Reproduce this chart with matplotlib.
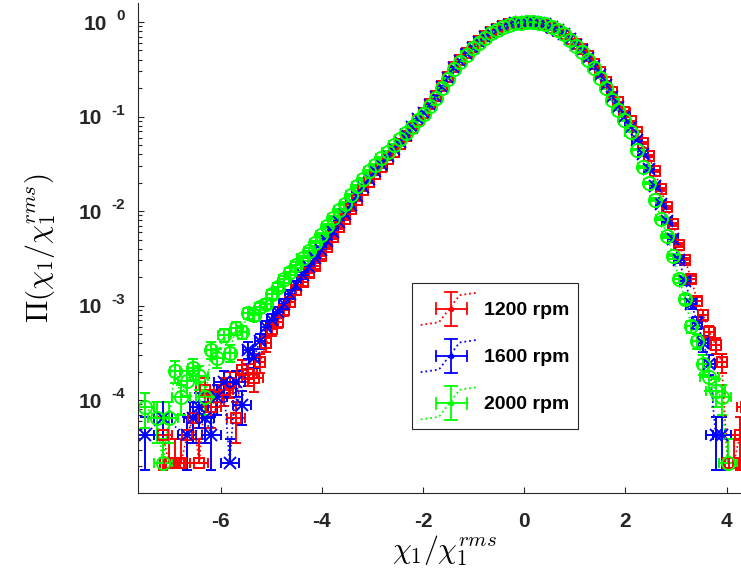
import numpy as np
import matplotlib
matplotlib.use('Agg')
import matplotlib.pyplot as plt
import matplotlib.transforms as mtransforms
from matplotlib.legend_handler import HandlerBase
from matplotlib.container import ErrorbarContainer
from matplotlib.lines import Line2D
from matplotlib.ticker import FixedLocator, LogLocator, NullFormatter

plt.rcParams['font.family'] = ['Liberation Sans', 'DejaVu Sans']
plt.rcParams['font.weight'] = 'bold'
plt.rcParams['axes.unicode_minus'] = False

# bin centres, normalised by rms
x_bins = [
    -7.62, -7.50, -7.38, -7.26, -7.14, -7.02, -6.90, -6.78, -6.66, -6.54,
    -6.42, -6.30, -6.18, -6.06, -5.94, -5.82, -5.70, -5.58, -5.46, -5.34,
    -5.22, -5.10, -4.98, -4.86, -4.74, -4.62, -4.50, -4.38, -4.26, -4.14,
    -4.02, -3.90, -3.78, -3.66, -3.54, -3.42, -3.30, -3.18, -3.06, -2.94,
    -2.82, -2.70, -2.58, -2.46, -2.34, -2.22, -2.10, -1.98, -1.86, -1.74,
    -1.62, -1.50, -1.38, -1.26, -1.14, -1.02, -0.90, -0.78, -0.66, -0.54,
    -0.42, -0.30, -0.18, -0.06, 0.06, 0.18, 0.30, 0.42, 0.54, 0.66,
    0.78, 0.90, 1.02, 1.14, 1.26, 1.38, 1.50, 1.62, 1.74, 1.86,
    1.98, 2.10, 2.22, 2.34, 2.46, 2.58, 2.70, 2.82, 2.94, 3.06,
    3.18, 3.30, 3.42, 3.54, 3.66, 3.78, 3.90, 4.02, 4.14, 4.26,
    4.38,
]

nan = np.nan
# log10 of the pdf (nan = empty bin)
logp_1200 = [
    nan, nan, nan, nan, -4.37, -4.67, -4.67, -4.67, -4.37, -4.19,
    -4.67, -3.89, -4.07, -3.97, -3.89, -3.82, -4.19, -3.68, -3.72, -3.77,
    -3.60, -3.40, -3.25, -3.17, -3.05, -2.96, -2.84, -2.75, -2.66, -2.58,
    -2.48, -2.38, -2.27, -2.17, -2.08, -1.98, -1.88, -1.78, -1.69, -1.61,
    -1.53, -1.45, -1.37, -1.29, -1.21, -1.12, -1.04, -0.96, -0.87, -0.78,
    -0.68, -0.58, -0.48, -0.40, -0.33, -0.26, -0.20, -0.15, -0.11, -0.075,
    -0.045, -0.025, -0.01, -0.005, -0.005, -0.01, -0.02, -0.035, -0.06, -0.09,
    -0.13, -0.18, -0.23, -0.29, -0.36, -0.44, -0.53, -0.63, -0.74, -0.85,
    -0.95, -1.05, -1.16, -1.28, -1.42, -1.58, -1.77, -1.96, -2.14, -2.36,
    -2.52, -2.72, -2.95, -3.10, -3.28, -3.42, -3.60, -4.67, -4.67, -4.37,
    -4.07,
]
logp_1600 = [
    nan, -4.37, nan, nan, -4.19, nan, nan, nan, -4.37, -4.19,
    -4.07, -4.19, -4.37, -3.97, -3.81, -4.67, -3.81, -4.05, -3.47, -3.55,
    -3.37, -3.23, -3.15, -3.07, -2.98, -2.88, -2.78, -2.68, -2.59, -2.50,
    -2.41, -2.32, -2.22, -2.12, -2.03, -1.94, -1.84, -1.75, -1.66, -1.58,
    -1.50, -1.42, -1.34, -1.27, -1.19, -1.11, -1.03, -0.96, -0.88, -0.79,
    -0.69, -0.59, -0.49, -0.41, -0.34, -0.27, -0.21, -0.16, -0.115, -0.08,
    -0.05, -0.028, -0.012, -0.004, 0.0, -0.003, -0.01, -0.025, -0.05, -0.085,
    -0.125, -0.18, -0.24, -0.30, -0.38, -0.46, -0.56, -0.67, -0.79, -0.90,
    -1.00, -1.11, -1.25, -1.40, -1.56, -1.73, -1.92, -2.10, -2.30, -2.52,
    -2.74, -2.98, -3.18, -3.40, -3.62, -4.37, -4.37, nan, nan, nan,
    nan,
]
logp_2000 = [
    nan, -4.07, nan, -4.19, -4.67, -4.19, -3.69, -3.97, -3.80, -3.66,
    -3.75, -3.97, -3.47, -3.55, -3.31, -3.50, -3.24, -3.28, -3.08, -3.10,
    -3.02, -2.98, -2.88, -2.80, -2.72, -2.64, -2.57, -2.50, -2.42, -2.34,
    -2.25, -2.16, -2.07, -1.99, -1.92, -1.83, -1.74, -1.66, -1.58, -1.51,
    -1.44, -1.37, -1.30, -1.24, -1.17, -1.11, -1.04, -0.97, -0.89, -0.80,
    -0.70, -0.60, -0.50, -0.42, -0.35, -0.28, -0.22, -0.17, -0.12, -0.085,
    -0.055, -0.03, -0.015, -0.005, 0.0, 0.0, -0.005, -0.02, -0.05, -0.085,
    -0.13, -0.19, -0.25, -0.32, -0.40, -0.49, -0.59, -0.70, -0.82, -0.93,
    -1.04, -1.16, -1.35, -1.53, -1.70, -1.88, -2.08, -2.26, -2.48, -2.72,
    -2.93, -3.22, -3.37, -3.62, -3.76, -3.90, -3.97, -4.67, nan, nan,
    nan,
]

labels = ['1200 rpm', '1600 rpm', '2000 rpm']
y_ticks = [1e-4, 1e-3, 1e-2, 1e-1, 1e0]
y_exponents = ['-4', '-3', '-2', '-1', '0']
count_unit = 2.15e-5   # pdf value of a single count


class MatlabErrHandler(HandlerBase):
    # legend icon: dotted stair line with an x/y error cross on top
    def create_artists(self, legend, orig_handle, xdescent, ydescent,
                       width, height, fontsize, trans):
        c = orig_handle.lines[0].get_color()
        x0, y0, w, h = -xdescent, -ydescent, width, height
        fx = [0.0, 0.32, 0.5, 0.68, 1.0]
        fy = [0.02, 0.1, 0.5, 0.9, 0.98]
        kw = dict(color=c, lw=1.3, transform=trans)
        arts = [Line2D([x0 + f*w for f in fx], [y0 + f*h for f in fy],
                       ls=':', **kw)]
        cx, cy = x0 + 0.53*w, y0 + 0.5*h
        cw, ch = 0.1*w, 0.16*h
        arts.append(Line2D([cx, cx], [y0, y0 + h], **kw))
        arts.append(Line2D([cx - cw, cx + cw], [y0, y0], **kw))
        arts.append(Line2D([cx - cw, cx + cw], [y0 + h, y0 + h], **kw))
        xl, xr = x0 + 0.26*w, x0 + 0.8*w
        arts.append(Line2D([xl, xr], [cy, cy], **kw))
        arts.append(Line2D([xl, xl], [cy - ch, cy + ch], **kw))
        arts.append(Line2D([xr, xr], [cy - ch, cy + ch], **kw))
        arts.append(Line2D([cx], [cy], marker='.', ms=6, color=c,
                           transform=trans))
        return arts


fig = plt.figure(figsize=(7.41, 5.74), dpi=100)
ax = fig.add_axes([138/741, 81/574, 614/741, 490/574])
ax.set_yscale('log')

styles = [('#ff0000', 's', 7), ('#0000ff', 'x', 8), ('#00ff00', 'o', 9.5)]
x_arr = np.array(x_bins)
for logp, lab, (c, m, ms) in zip([logp_1200, logp_1600, logp_2000],
                                 labels, styles):
    lp = np.array(logp)
    ok = ~np.isnan(lp)
    x = x_arr[ok]
    p = 10.0 ** lp[ok]
    err = 0.8 * np.sqrt(p * count_unit)
    lower = np.where(p < 1.5 * count_unit, 0.0, err)
    xerr = np.where(p < 2e-4, 0.18, 0.1)
    ax.errorbar(x, p, yerr=[lower, err], xerr=xerr, fmt=':', color=c,
                lw=1.2, marker=m, ms=ms, mfc='none', mec=c, mew=1.4,
                elinewidth=1.4, capsize=3.5, capthick=1.4, label=lab)

ax.set_xlim(-7.63, 4.5)
ax.set_ylim(1.04e-5, 1.59)
ax.set_xticks([-6, -4, -2, 0, 2, 4])
ax.yaxis.set_major_locator(FixedLocator(y_ticks))
ax.yaxis.set_major_formatter(NullFormatter())
ax.yaxis.set_minor_locator(LogLocator(base=10, subs=np.arange(2, 10)))
ax.yaxis.set_minor_formatter(NullFormatter())

for s in ['top', 'right']:
    ax.spines[s].set_visible(False)
for s in ['left', 'bottom']:
    ax.spines[s].set_color('#262626')
    ax.spines[s].set_linewidth(0.8)
ax.tick_params(which='both', direction='in', colors='#262626',
               labelcolor='#262626', width=0.8)
ax.tick_params(axis='x', length=4.5, pad=14, labelsize=15)
ax.tick_params(axis='y', which='major', length=4.5)
ax.tick_params(axis='y', which='minor', length=3)

# MATLAB style "10 ^-1" labels: exponent right aligned, "10" just before it
renderer = fig.canvas.get_renderer()
ytrans = ax.get_yaxis_transform()
exp_trans = mtransforms.offset_copy(ytrans, fig=fig, x=0, y=2, units='dots')
for yt, ex in zip(y_ticks, y_exponents):
    t = ax.text(-13/614, yt, ex, transform=exp_trans, ha='right',
                va='baseline', fontsize=11, color='#262626')
    left = ax.transAxes.inverted().transform(
        (t.get_window_extent(renderer).x0, 0))[0]
    ax.text(left - 9/614, yt, '10', transform=ytrans, ha='right',
            va='center_baseline', fontsize=15, color='#262626')

ax.set_xlabel(r'$\chi_1/\chi_1^{rms}$', fontsize=21.5, math_fontfamily='cm')
ax.xaxis.set_label_coords(0.5, -0.082)
ax.set_ylabel(r'$\Pi\left(\chi_1/\chi_1^{rms}\right)$', fontsize=21.5,
              math_fontfamily='cm')
ax.yaxis.set_label_coords(-0.13, 0.5)

leg = ax.legend(handler_map={ErrorbarContainer: MatlabErrHandler()},
                loc='center', bbox_to_anchor=(0.5814, 0.2796), fontsize=14,
                handlelength=2.95, handleheight=2.3, labelspacing=0.69,
                handletextpad=0.3, borderpad=0.45, fancybox=False,
                framealpha=1, edgecolor='#262626')
leg.get_frame().set_linewidth(0.8)

fig.savefig('out.png', dpi=100)
